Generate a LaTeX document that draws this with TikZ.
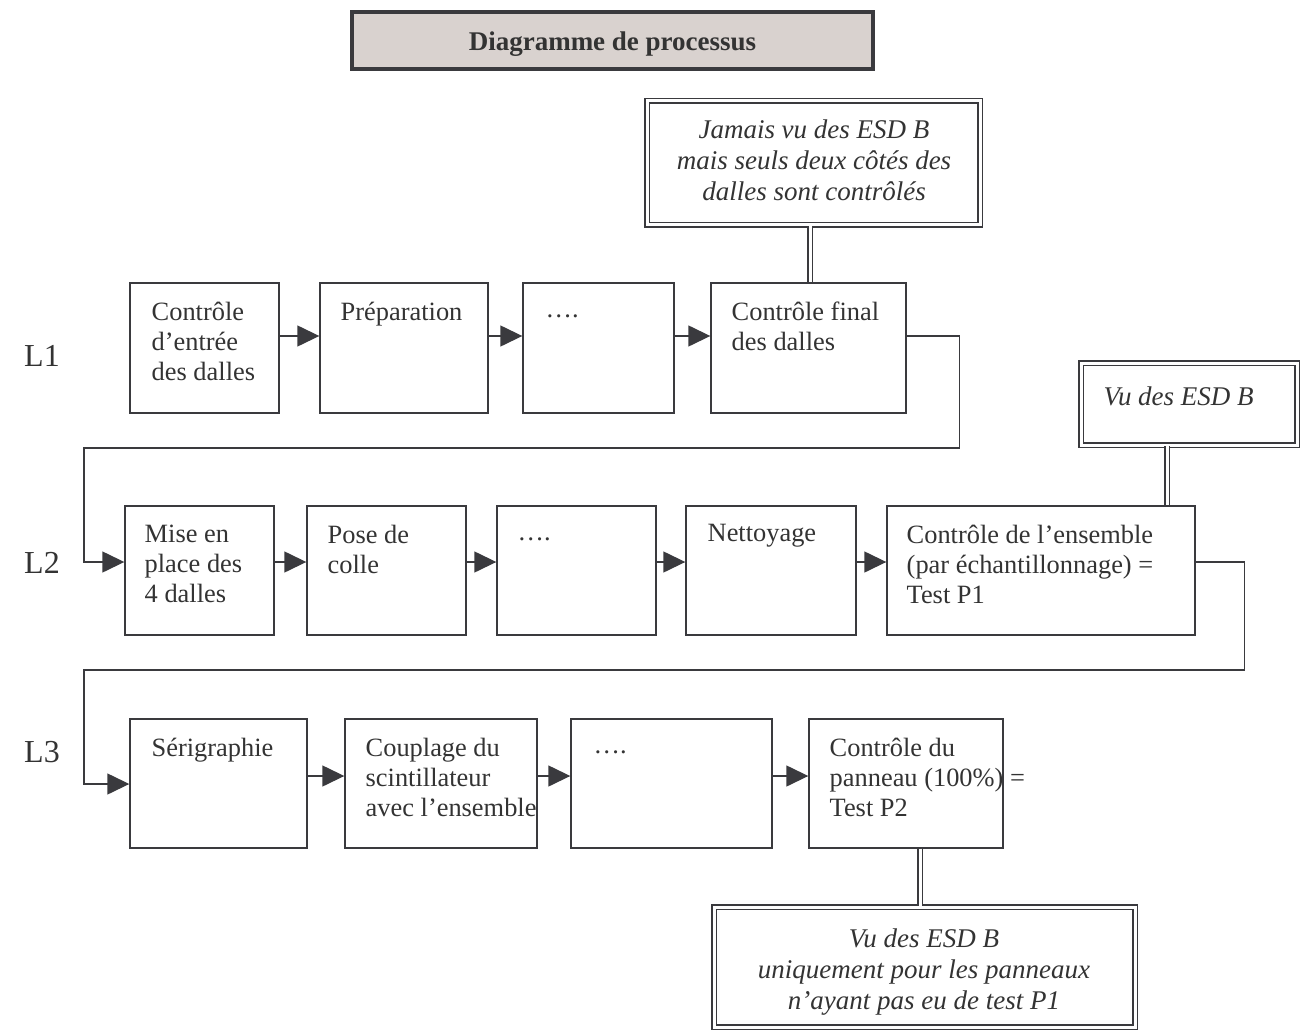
\documentclass[tikz,border=0pt]{standalone}
\usepackage{fontspec}
\setmainfont{Liberation Serif}
\usetikzlibrary{arrows.meta,fit}
\definecolor{ink}{HTML}{3A3A3E}
\definecolor{txtc}{HTML}{333333}
\definecolor{titlefill}{HTML}{D9D2CF}
\begin{document}
\begin{tikzpicture}[x=0.5pt,y=-0.5pt,
  stepbox/.style={draw=ink, line width=0.7pt, inner sep=0pt, rectangle},
  notebox/.style={draw=ink, line width=0.9pt, double, double distance=1.5pt, inner sep=0pt, rectangle},
  txt/.style={inner sep=0pt, align=left, text=txtc, font=\fontsize{13.2}{15}\selectfont},
  ntxt/.style={inner sep=0pt, align=center, text=txtc, font=\fontsize{13.5}{15.5}\selectfont\itshape},
  lbl/.style={inner sep=0pt, text=txtc, font=\fontsize{16}{18}\selectfont},
  arr/.style={draw=ink, line width=0.7pt, -{Triangle[length=11pt,width=10.5pt]}},
  dbl/.style={draw=ink, line width=0.9pt, double, double distance=1.5pt}
]
\useasboundingbox (0,0) rectangle (1300,1032);

% title
\node[draw=ink, line width=2pt, fill=titlefill, inner sep=0pt, fit={(352,12)(873,69)}] (title) {};
\node[inner sep=0pt, text=txtc, font=\fontsize{13.5}{15}\selectfont\bfseries] (titlet) at ([yshift=-2pt]title.center) {Diagramme de processus};

% line labels
\node[lbl] (l1) at (42,356) {L1};
\node[lbl] (l2) at (42,563) {L2};
\node[lbl] (l3) at (42,752) {L3};

% row L1
\node[stepbox, fit={(130,283)(279,413)}] (a1) {};
\node[stepbox, fit={(320,283)(488,413)}] (a2) {};
\node[stepbox, fit={(523,283)(674,413)}] (a3) {};
\node[stepbox, fit={(711,283)(906,413)}] (a4) {};
\node[txt, anchor=north west] (a1t) at ([shift={(22,19)}]a1.north west) {Contrôle\\d’entrée\\des dalles};
\node[txt, anchor=north west] (a2t) at ([shift={(21,19)}]a2.north west) {Préparation};
\node[txt, anchor=base west] (a3t) at ([shift={(23,35)}]a3.north west) {….};
\node[txt, anchor=north west] (a4t) at ([shift={(21,19)}]a4.north west) {Contrôle final\\des dalles};

% row L2
\node[stepbox, fit={(125,506)(274,635)}] (b1) {};
\node[stepbox, fit={(307,506)(466,635)}] (b2) {};
\node[stepbox, fit={(497,506)(656,635)}] (b3) {};
\node[stepbox, fit={(686,506)(856,635)}] (b4) {};
\node[stepbox, fit={(887,506)(1195,635)}] (b5) {};
\node[txt, anchor=north west] (b1t) at ([shift={(20,19)}]b1.north west) {Mise en\\place des\\4 dalles};
\node[txt, anchor=north west] (b2t) at ([shift={(21,19)}]b2.north west) {Pose de\\colle};
\node[txt, anchor=base west] (b3t) at ([shift={(21,35)}]b3.north west) {….};
\node[txt, anchor=north west] (b4t) at ([shift={(22,19)}]b4.north west) {Nettoyage};
\node[txt, anchor=north west] (b5t) at ([shift={(20,19)}]b5.north west) {Contrôle de l’ensemble\\(par échantillonnage) =\\Test P1};

% row L3
\node[stepbox, fit={(130,719)(307,848)}] (c1) {};
\node[stepbox, fit={(345,719)(537,848)}] (c2) {};
\node[stepbox, fit={(571,719)(772,848)}] (c3) {};
\node[stepbox, fit={(809,719)(1003,848)}] (c4) {};
\node[txt, anchor=north west] (c1t) at ([shift={(22,19)}]c1.north west) {Sérigraphie};
\node[txt, anchor=north west] (c2t) at ([shift={(21,19)}]c2.north west) {Couplage du\\scintillateur\\avec l’ensemble};
\node[txt, anchor=base west] (c3t) at ([shift={(23,35)}]c3.north west) {….};
\node[txt, anchor=north west] (c4t) at ([shift={(21,19)}]c4.north west) {Contrôle du\\panneau (100\%) =\\Test P2};

% notes
\node[notebox, fit={(647,101)(980,225)}] (n1) {};
\node[ntxt] (n1t) at (814,160) {Jamais vu des ESD B\\mais seuls deux côtés des\\dalles sont contrôlés};
\node[notebox, fit={(1081,363)(1297,445)}] (n2) {};
\node[ntxt, anchor=north west] (n2t) at ([shift={(23,24)}]n2.north west) {Vu des ESD B};
\node[notebox, fit={(714,907)(1135,1027)}] (n3) {};
\node[ntxt] (n3t) at (924,972) {Vu des ESD B\\uniquement pour les panneaux\\n’ayant pas eu de test P1};

% arrow heights
\coordinate (ya) at (0,336);
\coordinate (yb) at (0,562);
\coordinate (yc) at (0,776);
\coordinate (yce) at (0,784);

% flow L1
\draw[arr] (a1.east |- ya) -- (a2.west |- ya);
\draw[arr] (a2.east |- ya) -- (a3.west |- ya);
\draw[arr] (a3.east |- ya) -- (a4.west |- ya);
\draw[arr] (a4.east |- ya) -- ++(53,0) |- (84,448) |- (b1.west |- yb);

% flow L2
\draw[arr] (b1.east |- yb) -- (b2.west |- yb);
\draw[arr] (b2.east |- yb) -- (b3.west |- yb);
\draw[arr] (b3.east |- yb) -- (b4.west |- yb);
\draw[arr] (b4.east |- yb) -- (b5.west |- yb);
\draw[arr] (b5.east |- yb) -- ++(49,0) |- (84,670) |- (c1.west |- yce);

% flow L3
\draw[arr] (c1.east |- yc) -- (c2.west |- yc);
\draw[arr] (c2.east |- yc) -- (c3.west |- yc);
\draw[arr] (c3.east |- yc) -- (c4.west |- yc);

% note links
\coordinate (x1) at (810,0);
\coordinate (x2) at (1167,0);
\coordinate (x3) at (920,0);
\draw[dbl] (n1.south -| x1) -- (a4.north -| x1);
\draw[dbl] (n2.south -| x2) -- (b5.north -| x2);
\draw[dbl] (c4.south -| x3) -- (n3.north -| x3);
\end{tikzpicture}
\end{document}
